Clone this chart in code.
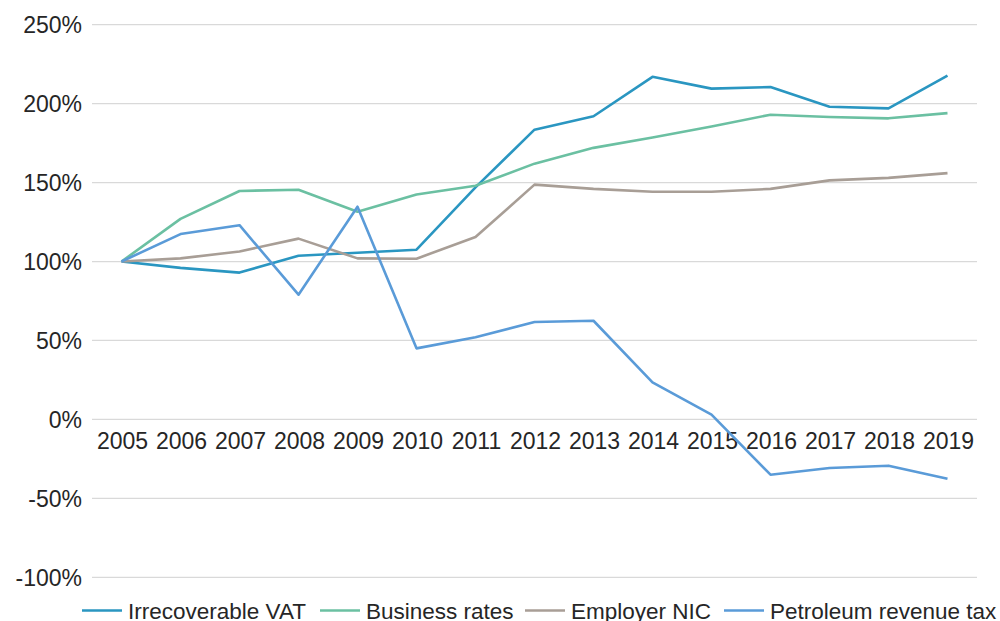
<!DOCTYPE html>
<html>
<head>
<meta charset="utf-8">
<script src="https://cdn.jsdelivr.net/npm/d3@7"></script>
<style>
  body { margin: 0; background: #fff; }
  text { font-family: 'Liberation Sans', Arial, sans-serif; fill: #262626; }
</style>
</head>
<body>
<div id="chart"></div>
<script>
const years = ['2005', '2006', '2007', '2008', '2009', '2010', '2011', '2012', '2013', '2014', '2015', '2016', '2017', '2018', '2019']

const irrecoverableVat = [100, 96, 93, 103.7, 105.6, 107.5, 147, 183.5, 192, 217, 209.5, 210.5, 198, 197, 217.7]
const businessRates = [100, 127, 144.7, 145.5, 131.5, 142.5, 148, 162, 172, 178.5, 185.5, 193, 191.5, 190.7, 194]
const employerNic = [100, 102, 106.4, 114.5, 102, 101.8, 115.5, 148.7, 146, 144.2, 144.2, 146, 151.4, 153, 156]
const petroleumTax = [100, 117.4, 123, 79, 134.7, 45, 52, 61.7, 62.5, 23.4, 3, -35, -30.8, -29.3, -37.6]

const yTicks = [-100, -50, 0, 50, 100, 150, 200, 250]

const seriesNames = ['Irrecoverable VAT', 'Business rates', 'Employer NIC', 'Petroleum revenue tax']
const seriesColors = ['#2a96c1', '#6bc0a2', '#a89e96', '#5a9bd8']

const series = [irrecoverableVat, businessRates, employerNic, petroleumTax].map((values, i) => ({
  name: seriesNames[i],
  color: seriesColors[i],
  values: values
}))

const width = 1000
const height = 621

const svg = d3
  .select('#chart')
  .append('svg')
  .attr('width', width)
  .attr('height', height)

const xScale = d3
  .scaleBand()
  .domain(years)
  .range([92, 977])

const yScale = d3
  .scaleLinear()
  .domain([-100, 250])
  .range([577.3, 24.7])

// gridlines
svg
  .selectAll('.grid')
  .data(yTicks)
  .enter()
  .append('line')
  .attr('class', 'grid')
  .attr('x1', 92)
  .attr('x2', 977)
  .attr('y1', d => yScale(d))
  .attr('y2', d => yScale(d))
  .attr('stroke', '#d9d9d9')
  .attr('stroke-width', 1.3)

// y labels
svg
  .selectAll('.y-label')
  .data(yTicks)
  .enter()
  .append('text')
  .attr('class', 'y-label')
  .attr('x', 82)
  .attr('y', d => yScale(d))
  .attr('dy', '0.36em')
  .attr('text-anchor', 'end')
  .attr('font-size', 23)
  .text(d => d + '%')

// x labels sit just under the 0% line
svg
  .selectAll('.x-label')
  .data(years)
  .enter()
  .append('text')
  .attr('class', 'x-label')
  .attr('x', d => xScale(d) + xScale.bandwidth() / 2 + 1)
  .attr('y', yScale(0) + 30)
  .attr('text-anchor', 'middle')
  .attr('font-size', 23)
  .text(d => d)

const line = d3
  .line()
  .x((d, i) => xScale(years[i]) + xScale.bandwidth() / 2)
  .y(d => yScale(d))

svg
  .selectAll('.series')
  .data(series)
  .enter()
  .append('path')
  .attr('class', 'series')
  .attr('fill', 'none')
  .attr('stroke', d => d.color)
  .attr('stroke-width', 2.6)
  .attr('stroke-linejoin', 'round')
  .attr('d', d => line(d.values))

// legend (clipped at the bottom edge, as in the original)
const legendX = [82, 320, 525, 724]
const legend = svg
  .selectAll('.legend')
  .data(series)
  .enter()
  .append('g')
  .attr('class', 'legend')
  .attr('transform', (d, i) => 'translate(' + legendX[i] + ',' + 610.5 + ')')

legend
  .append('line')
  .attr('x1', 0)
  .attr('x2', 40)
  .attr('stroke', d => d.color)
  .attr('stroke-width', 2.6)

legend
  .append('text')
  .attr('x', 46)
  .attr('dy', '0.36em')
  .attr('font-size', 22.5)
  .text(d => d.name)
</script>
</body>
</html>
